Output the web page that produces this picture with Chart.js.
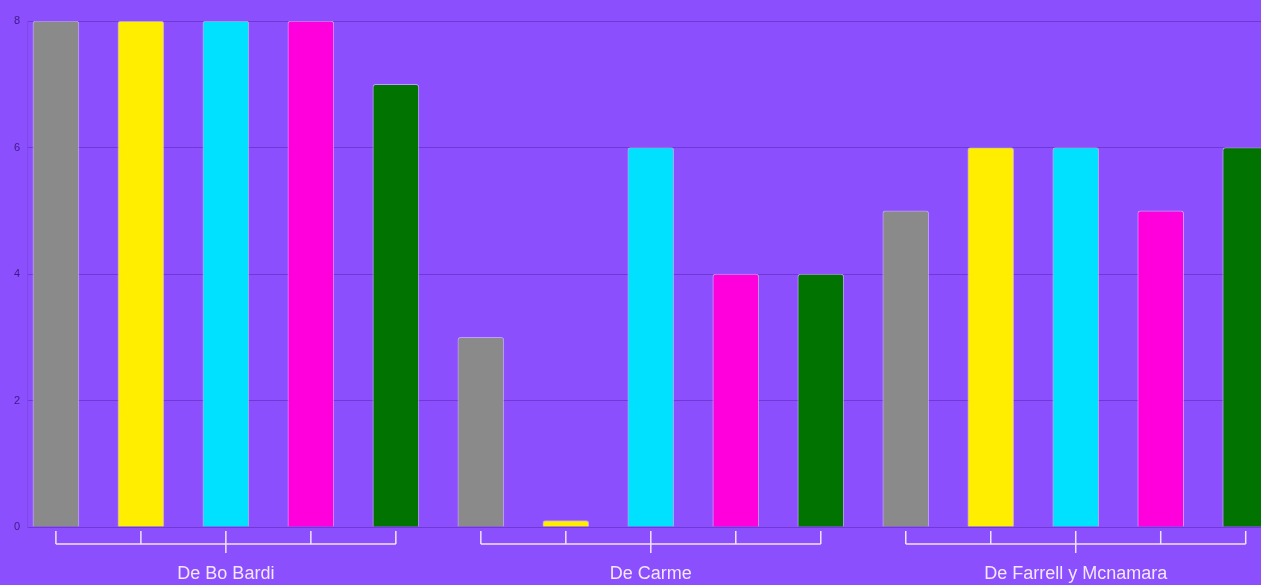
<!DOCTYPE html>
<html>
<head>
<meta charset="utf-8">
<script src="https://cdn.jsdelivr.net/npm/chart.js@4.4.1/dist/chart.umd.min.js"></script>
<style>
  html, body { margin: 0; padding: 0; background: #8b4ffd; overflow: hidden; }
  #wrap { position: relative; width: 1261px; height: 585px; }
</style>
</head>
<body>
<div id="wrap"><canvas id="chart"></canvas></div>
<script>
// groups along the x axis
const groups = ['De Bo Bardi', 'De Carme', 'De Farrell y Mcnamara'];

// one series per colour, values per group
const seriesNames = ['Serie 1', 'Serie 2', 'Serie 3', 'Serie 4', 'Serie 5'];
const seriesGray = [8, 3, 5];
const seriesYellow = [8, 0.1, 6];
const seriesCyan = [8, 6, 6];
const seriesMagenta = [8, 4, 5];
const seriesGreen = [7, 4, 6];

const yTicks = [0, 2, 4, 6, 8];

const colors = ['#8a8a8a', '#ffee00', '#00e1ff', '#ff00dc', '#007300'];
const allSeries = [seriesGray, seriesYellow, seriesCyan, seriesMagenta, seriesGreen];
const perGroup = allSeries.length;

// each bar sits at its own slot: group * 5 + series
const datasets = allSeries.map((vals, s) => ({
  label: seriesNames[s],
  data: vals.map((v, g) => ({ x: g * perGroup + s, y: v })),
  backgroundColor: colors[s],
  borderColor: 'rgba(255,255,255,0.45)',
  borderWidth: 1,
  borderRadius: { topLeft: 3, topRight: 3 },
  borderSkipped: 'bottom',
  barThickness: 46,
  grouped: false
}));

// brackets + group names under the axis
const groupBrackets = {
  id: 'groupBrackets',
  afterDraw(chart) {
    const { ctx, scales } = chart;
    const x = scales.x;
    const base = chart.chartArea.bottom;
    ctx.save();
    ctx.strokeStyle = '#efe4ff';
    ctx.lineWidth = 1.5;
    groups.forEach((name, g) => {
      const first = x.getPixelForValue(g * perGroup);
      const last = x.getPixelForValue(g * perGroup + perGroup - 1);
      const mid = (first + last) / 2;
      const lineY = base + 17;
      ctx.beginPath();
      ctx.moveTo(first, lineY);
      ctx.lineTo(last, lineY);
      for (let s = 0; s < perGroup; s++) {
        const px = x.getPixelForValue(g * perGroup + s);
        const isMid = s === Math.floor(perGroup / 2);
        ctx.moveTo(px, base + 4);
        ctx.lineTo(px, isMid ? base + 26 : lineY);
      }
      ctx.stroke();
      ctx.fillStyle = '#f3e6ff';
      ctx.font = '18px "Liberation Sans", Arial, sans-serif';
      ctx.textAlign = 'center';
      ctx.textBaseline = 'middle';
      ctx.fillText(name, mid, base + 47);
    });
    ctx.restore();
  }
};

new Chart(document.getElementById('chart'), {
  type: 'bar',
  data: { datasets },
  plugins: [groupBrackets],
  options: {
    responsive: true,
    maintainAspectRatio: false,
    animation: false,
    layout: { padding: { top: 21, bottom: 58, left: 0, right: 0 } },
    plugins: {
      legend: { display: false },
      tooltip: { enabled: false }
    },
    scales: {
      x: {
        type: 'linear',
        display: false,
        offset: false,
        grid: { offset: false },
        min: -0.34,
        max: 14.18
      },
      y: {
        min: yTicks[0],
        max: yTicks[yTicks.length - 1],
        afterFit(scale) { scale.width = 27; },
        afterBuildTicks(scale) { scale.ticks = yTicks.map(v => ({ value: v })); },
        grid: { color: 'rgba(85,35,175,0.5)', drawTicks: false },
        border: { color: 'rgba(120,70,220,0.6)' },
        ticks: {
          color: '#3e1a85',
          padding: 7,
          font: { size: 11, family: '"Liberation Sans", Arial, sans-serif' }
        }
      }
    }
  }
});
</script>
</body>
</html>
